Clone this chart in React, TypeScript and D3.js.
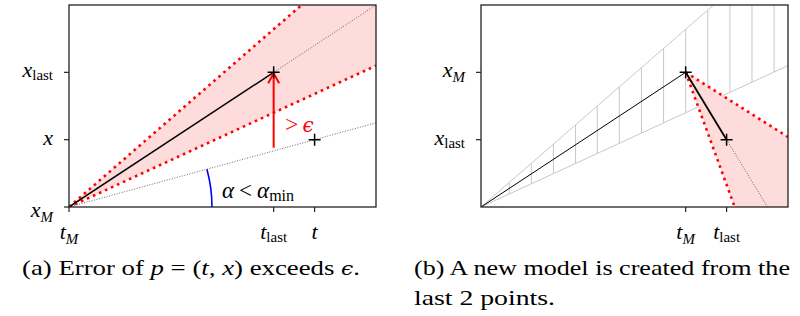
import * as d3 from 'd3'

// data space shared by both panels
const tDomain = [0, 7.5]
const xDomain = [0, 3]

// panel (a): model from x_M through x_last, new point p=(t,x)
const modelPts = [{ t: 0, x: 0 }, { t: 5, x: 2 }]
const newPt = { t: 6, x: 1 }
const coneSlopes = [0.28, 0.528]
const modelSlope = 0.4
const errArrow = [0.88, 2]
const aTicksT = [0, 5, 6]
const aTickLabT = [['t', 'M'], ['t', 'last'], ['t', '']]
const aTicksX = [0, 1, 2]
const aTickLabX = [['x', 'M'], ['x', ''], ['x', 'last']]

// panel (b): new model from the last 2 points
const bPts = [{ t: 5, x: 2 }, { t: 6, x: 1 }]
const newConeSlopes = [-1.67, -0.384]
const hatchT = [0.69, 1.23, 1.77, 2.31, 2.84, 3.38, 3.92, 4.46, 5.0, 5.54, 6.08, 6.62, 7.16]
const bTicksT = [5, 6]
const bTickLabT = [['t', 'M'], ['t', 'last']]
const bTicksX = [1, 2]
const bTickLabX = [['x', 'last'], ['x', 'M']]

const SERIF = { fontFamily: '"Liberation Serif", "Times New Roman", serif' }
const EPS = { fontFamily: '"DejaVu Serif", serif' }
const RED = '#ff0000'
const PINK = '#fddcdb'

const top = 5, bottom = 207, plotW = 307

function Label({ x, y, base, sub, anchor = 'end', size = 22 }: any) {
  return (
    <text x={x} y={y} textAnchor={anchor} style={SERIF} fontSize={size} fill="#000">
      <tspan fontStyle="italic">{base}</tspan>
      {sub ? <tspan fontSize={size * 0.68} dy={sub === 'M' ? 5 : 3} fontStyle={sub === 'M' ? 'italic' : 'normal'}>{sub}</tspan> : null}
    </text>
  )
}

function Frame({ left, id, children, ticksT, labT, ticksX, labX }: any) {
  const t = d3.scaleLinear().domain(tDomain).range([left, left + plotW])
  const x = d3.scaleLinear().domain(xDomain).range([bottom, top])
  return (
    <g>
      <defs>
        <clipPath id={id}><rect x={left} y={top} width={plotW} height={bottom - top} /></clipPath>
      </defs>
      <g clipPath={`url(#${id})`}>{children(t, x)}</g>
      <rect x={left} y={top} width={plotW} height={bottom - top} fill="none" stroke="#222" strokeWidth={1.3} />
      {ticksT.map((v: number, i: number) => (
        <g key={'t' + i}>
          <line x1={t(v)} x2={t(v)} y1={bottom} y2={bottom + 5} stroke="#222" strokeWidth={1.2} />
          <Label x={t(v)} y={239} base={labT[i][0]} sub={labT[i][1]} anchor="middle" />
        </g>
      ))}
      {ticksX.map((v: number, i: number) => (
        <g key={'x' + i}>
          <line x1={left - 5} x2={left} y1={x(v)} y2={x(v)} stroke="#222" strokeWidth={1.2} />
          <Label x={left - 16} y={x(v) + (v === 0 ? 10 : 5)} base={labX[i][0]} sub={labX[i][1]} />
        </g>
      ))}
    </g>
  )
}

const line = (t: any, x: any) => d3.line<number[]>().x(d => t(d[0])).y(d => x(d[1]))
const ray = (t0: number, x0: number, s: number, t1: number) => [[t0, x0], [t1, x0 + s * (t1 - t0)]]

function Plus({ cx, cy }: any) {
  return <path d={`M${cx - 6},${cy}H${cx + 6}M${cx},${cy - 6}V${cy + 6}`} stroke="#000" strokeWidth={1.5} />
}

function PanelA() {
  return (
    <Frame left={69} id="clipA" ticksT={aTicksT} labT={aTickLabT} ticksX={aTicksX} labX={aTickLabX}>
      {(t: any, x: any) => {
        const L = line(t, x)
        const tEnd = tDomain[1]
        const fill = [[0, 0], [tEnd, coneSlopes[1] * tEnd], [tEnd, coneSlopes[0] * tEnd]]
        const pSlope = newPt.x / newPt.t
        const ang = Math.atan2(x(0) - x(pSlope), t(1) - t(0))
        const arc = d3.path()
        arc.arc(t(0), x(0), 143, -ang, 0)
        const ax = t(modelPts[1].t), ay0 = x(errArrow[0]), ay1 = x(errArrow[1])
        return (
          <g>
            <path d={L(fill as any) + 'Z'} fill={PINK} />
            <path d={L(ray(0, 0, pSlope, tEnd) as any) || ''} stroke="#444" strokeWidth={0.8} strokeDasharray="1 1.6" fill="none" />
            <path d={L(ray(5, 2, modelSlope, tEnd) as any) || ''} stroke="#444" strokeWidth={0.8} strokeDasharray="1 1.6" fill="none" />
            {coneSlopes.map((s, i) => (
              <path key={i} d={L(ray(0, 0, s, tEnd) as any) || ''} stroke={RED} strokeWidth={2.6} strokeDasharray="2.6 4" fill="none" />
            ))}
            <path d={L(modelPts.map(p => [p.t, p.x])) || ''} stroke="#000" strokeWidth={1.5} fill="none" />
            <path d={arc.toString()} stroke="#0000ff" strokeWidth={1.6} fill="none" />
            <path d={`M${ax},${ay0}V${ay1 + 1}`} stroke={RED} strokeWidth={2} />
            <path d={`M${ax - 5.5},${ay1 + 11}L${ax},${ay1 + 1}L${ax + 5.5},${ay1 + 11}`} stroke={RED} strokeWidth={2} fill="none" />
            <text x={285} y={132} style={SERIF} fontSize={24} fill={RED}>{'>'}<tspan dx={4} fontStyle="italic" style={EPS} fontSize={20}>ϵ</tspan></text>
            <text x={222} y={198} style={SERIF} fontSize={23} fill="#000">
              <tspan fontStyle="italic">α</tspan><tspan dx={5}>{'<'}</tspan><tspan dx={5} fontStyle="italic">α</tspan><tspan fontSize={16} dy={3}>min</tspan>
            </text>
            <Plus cx={t(modelPts[1].t)} cy={x(modelPts[1].x)} />
            <Plus cx={t(newPt.t)} cy={x(newPt.x)} />
          </g>
        )
      }}
    </Frame>
  )
}

function PanelB() {
  return (
    <Frame left={481} id="clipB" ticksT={bTicksT} labT={bTickLabT} ticksX={bTicksX} labX={bTickLabX}>
      {(t: any, x: any) => {
        const L = line(t, x)
        const tEnd = tDomain[1]
        const p0 = bPts[0], p1 = bPts[1]
        const fill = [[p0.t, p0.x], ray(p0.t, p0.x, newConeSlopes[1], tEnd)[1], ray(p0.t, p0.x, newConeSlopes[0], tEnd)[1]]
        const s = (p1.x - p0.x) / (p1.t - p0.t)
        return (
          <g>
            {coneSlopes.map((c, i) => (
              <path key={i} d={L(ray(0, 0, c, tEnd) as any) || ''} stroke="#c8c8c8" strokeWidth={1} fill="none" />
            ))}
            {hatchT.map((h, i) => (
              <path key={'h' + i} d={L([[h, coneSlopes[0] * h], [h, coneSlopes[1] * h]]) || ''} stroke="#c8c8c8" strokeWidth={1} />
            ))}
            <path d={L([[0, 0], [p0.t, p0.x]]) || ''} stroke="#000" strokeWidth={1} fill="none" />
            <path d={L(fill as any) + 'Z'} fill={PINK} />
            <path d={L(ray(p1.t, p1.x, s, tEnd) as any) || ''} stroke="#444" strokeWidth={0.8} strokeDasharray="1 1.6" fill="none" />
            {newConeSlopes.map((c, i) => (
              <path key={i} d={L(ray(p0.t, p0.x, c, tEnd) as any) || ''} stroke={RED} strokeWidth={2.6} strokeDasharray="2.6 4" fill="none" />
            ))}
            <path d={L(bPts.map(p => [p.t, p.x])) || ''} stroke="#000" strokeWidth={1.8} fill="none" />
            {bPts.map((p, i) => <Plus key={i} cx={t(p.t)} cy={x(p.x)} />)}
          </g>
        )
      }}
    </Frame>
  )
}

export default function App() {
  return (
    <svg width={800} height={316} style={{ position: 'absolute', left: 0, top: 0, background: '#fff' }}>
      <PanelA />
      <PanelB />
      <text x={22} y={275} style={SERIF} fontSize={22} textLength={338} lengthAdjust="spacingAndGlyphs">
        (a) Error of <tspan fontStyle="italic">p</tspan> = (<tspan fontStyle="italic">t, x</tspan>) exceeds <tspan fontStyle="italic" style={EPS} fontSize={18}>ϵ</tspan>.
      </text>
      <text x={414} y={275} style={SERIF} fontSize={22} textLength={376} lengthAdjust="spacingAndGlyphs">(b) A new model is created from the</text>
      <text x={414} y={305} style={SERIF} fontSize={22} textLength={141} lengthAdjust="spacingAndGlyphs">last 2 points.</text>
    </svg>
  )
}
